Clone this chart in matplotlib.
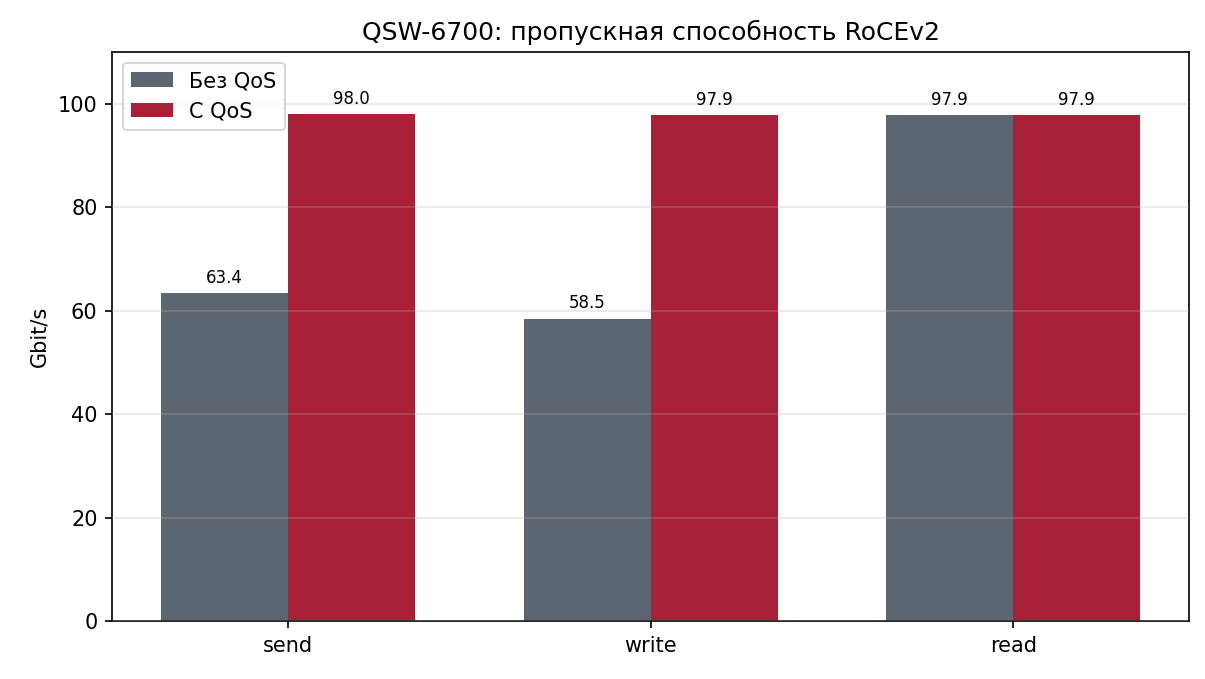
import matplotlib
matplotlib.use("Agg")
import matplotlib.pyplot as plt
import numpy as np

categories = ["send", "write", "read"]
no_qos = [63.4, 58.5, 97.9]
with_qos = [98.0, 97.9, 97.9]
series_labels = ["Без QoS", "С QoS"]

fig = plt.figure(figsize=(8.04, 4.527), dpi=150)
ax = fig.add_axes([0.093, 0.085, 0.893, 0.838])
x = np.arange(len(categories))
w = 0.35
b1 = ax.bar(x - w/2, no_qos, w, color="#5c6670", label=series_labels[0])
b2 = ax.bar(x + w/2, with_qos, w, color="#a92139", label=series_labels[1])
for bars in (b1, b2):
    for r in bars:
        ax.annotate(f"{r.get_height():.1f}", (r.get_x() + r.get_width()/2, r.get_height()),
                    xytext=(0, 3), textcoords="offset points", ha="center", va="bottom", fontsize=8)
ax.set_xticks(x)
ax.set_xticklabels(categories)
ax.set_ylim(0, 110)
ax.set_ylabel("Gbit/s")
ax.set_title("QSW-6700: пропускная способность RoCEv2")
ax.grid(axis="y", alpha=0.3)
ax.set_axisbelow(False)
ax.legend(loc="upper left")
fig.savefig("out.png", dpi=150)
